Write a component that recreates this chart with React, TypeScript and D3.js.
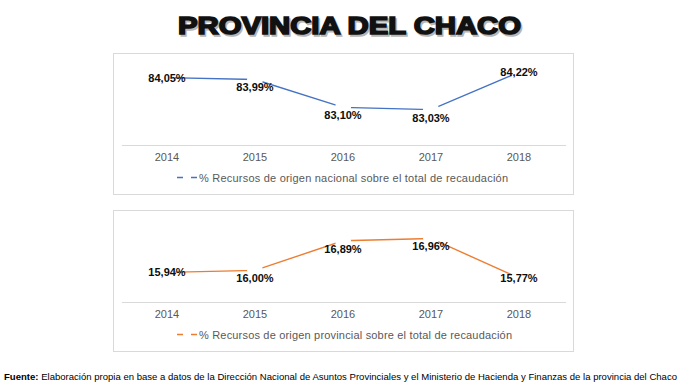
import React from 'react';
import * as d3 from 'd3';

const years = ['2014', '2015', '2016', '2017', '2018'];
const nacional = [84.05, 83.99, 83.1, 83.03, 84.22];
const provincial = [15.94, 16.0, 16.89, 16.96, 15.77];
const labelPlacement = ['center', 'below', 'below', 'below', 'center'];

const nacionalLegend = '% Recursos de origen nacional sobre el total de recaudación';
const provincialLegend = '% Recursos de origen provincial sobre el total de recaudación';

const fmt = (v: number) => v.toFixed(2).replace('.', ',') + '%';

const BOX_X = 113;
const BOX_W = 460;
const BOX_H = 141;

const Panel = ({ top, values, domain, color, legend, legendWidth }) => {
  const xScale = d3.scaleBand().domain(years).range([123, 563]);
  const yScale = d3.scaleLinear().domain(domain).range([top + 92, top + 10.5]);
  const cx = (y: string) => xScale(y) + xScale.bandwidth() / 2;

  const line = d3.line<number>()
    .x((d, i) => cx(years[i]))
    .y(d => yScale(d));

  return (
    <g>
      <rect x={BOX_X + 0.5} y={top + 0.5} width={BOX_W} height={BOX_H} fill='#fff' stroke='#d9d9d9' />
      <line x1={122} x2={566} y1={top + 92.5} y2={top + 92.5} stroke='#d9d9d9' />
      <path d={line(values)} fill='none' stroke={color} strokeWidth={1.4} />
      {values.map((v, i) => (
        <circle key={'m' + i} cx={cx(years[i])} cy={yScale(v)} r={8} fill='#fff' />
      ))}
      {values.map((v, i) => (
        <text key={'l' + i} x={cx(years[i])} y={yScale(v) + (labelPlacement[i] === 'below' ? 8 : 0) + 4}
          textAnchor='middle' fontSize={11} fontWeight='bold' fill='#0d0d0d'>{fmt(v)}</text>
      ))}
      {years.map(y => (
        <text key={y} x={cx(y)} y={top + 108} textAnchor='middle' fontSize={11} fill='#595959'>{y}</text>
      ))}
      <line x1={177} x2={198} y1={top + 124.5} y2={top + 124.5} stroke={color} strokeWidth={1.4} strokeDasharray='6,8' />
      <text x={199} y={top + 128.5} fontSize={11} fill='#595959' textLength={legendWidth} lengthAdjust='spacing'>{legend}</text>
    </g>
  );
};

const App = () => {
  return (
    <svg width={685} height={388} style={{ position: 'absolute', left: 0, top: 0, background: '#fff' }}
      fontFamily="'Liberation Sans', Arial, sans-serif">
      <text x={179.5} y={35.5} fontSize={23.5} fontWeight='bold' fill='#888' opacity={0.6}
        stroke='#888' strokeWidth={1.6} textLength={343} lengthAdjust='spacingAndGlyphs'>PROVINCIA DEL CHACO</text>
      <text x={178} y={34} fontSize={23.5} fontWeight='bold' fill='#111'
        stroke='#111' strokeWidth={1.6} textLength={343} lengthAdjust='spacingAndGlyphs'>PROVINCIA DEL CHACO</text>

      <Panel top={53} values={nacional} domain={[81.9, 84.5]} color='#4472c4' legend={nacionalLegend} legendWidth={309} />
      <Panel top={210} values={provincial} domain={[15.05, 17.5]} color='#ed7d31' legend={provincialLegend} legendWidth={313} />

      <text x={4} y={379.5} fontSize={9.4} fill='#000' textLength={673} lengthAdjust='spacingAndGlyphs'>
        <tspan fontWeight='bold'>Fuente:</tspan> Elaboración propia en base a datos de la Dirección Nacional de Asuntos Provinciales y el Ministerio de Hacienda y Finanzas de la provincia del Chaco
      </text>
    </svg>
  );
};

export default App;
